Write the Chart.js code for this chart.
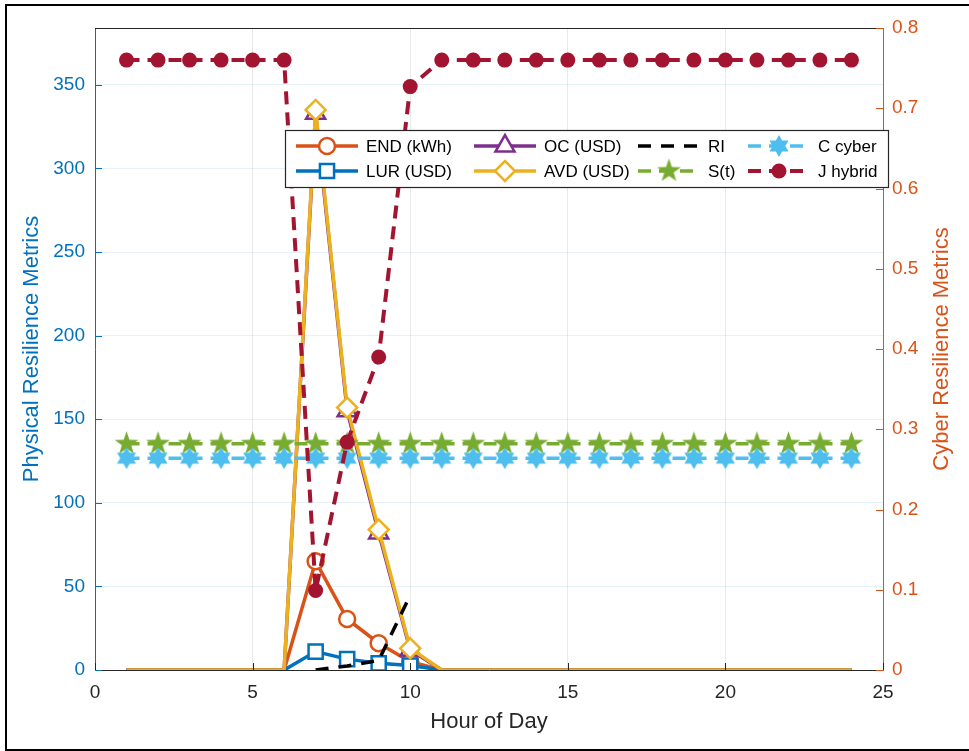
<!DOCTYPE html>
<html>
<head>
<meta charset="utf-8">
<script src="https://cdn.jsdelivr.net/npm/chart.js@4.4.1/dist/chart.umd.min.js"></script>
<style>
  html, body { margin: 0; padding: 0; background: #fff; }
  #wrap { position: relative; width: 969px; height: 751px; overflow: hidden; background: #fff; }
  #frame { position: absolute; left: 5px; top: 4px; width: 1000px; height: 747px; border: 2px solid #000; box-sizing: border-box; pointer-events: none; }
</style>
</head>
<body>
<div id="wrap">
  <canvas id="resilienceChart" width="969" height="751"></canvas>
  <div id="frame"></div>
</div>
<script>
const hours = [1, 2, 3, 4, 5, 6, 7, 8, 9, 10, 11, 12, 13, 14, 15, 16, 17, 18, 19, 20, 21, 22, 23, 24];

// physical metrics (left axis)
const endKwh = [0, 0, 0, 0, 0, 0, 65, 30.5, 16, 5, 0, 0, 0, 0, 0, 0, 0, 0, 0, 0, 0, 0, 0, 0];
const lurUsd = [0, 0, 0, 0, 0, 0, 11, 6.5, 4, 2.7, 0, 0, 0, 0, 0, 0, 0, 0, 0, 0, 0, 0, 0, 0];
const ocUsd = [0, 0, 0, 0, 0, 0, 333, 155, 82, 12, 0, 0, 0, 0, 0, 0, 0, 0, 0, 0, 0, 0, 0, 0];
const avdUsd = [0, 0, 0, 0, 0, 0, 335, 157, 84, 13, 0, 0, 0, 0, 0, 0, 0, 0, 0, 0, 0, 0, 0, 0];

// cyber metrics (right axis)
const riIndex = [null, null, null, null, null, null, 0, 0.005, 0.012, 0.093, null, null, null, null, null, null, null, null, null, null, null, null, null, null];
const sT = [0.282, 0.282, 0.282, 0.282, 0.282, 0.282, 0.282, 0.282, 0.282, 0.282, 0.282, 0.282, 0.282, 0.282, 0.282, 0.282, 0.282, 0.282, 0.282, 0.282, 0.282, 0.282, 0.282, 0.282];
const cCyber = [0.264, 0.264, 0.264, 0.264, 0.264, 0.264, 0.264, 0.264, 0.264, 0.264, 0.264, 0.264, 0.264, 0.264, 0.264, 0.264, 0.264, 0.264, 0.264, 0.264, 0.264, 0.264, 0.264, 0.264];
const jHybrid = [0.76, 0.76, 0.76, 0.76, 0.76, 0.76, 0.099, 0.284, 0.39, 0.727, 0.76, 0.76, 0.76, 0.76, 0.76, 0.76, 0.76, 0.76, 0.76, 0.76, 0.76, 0.76, 0.76, 0.76];

const xTicks = [0, 5, 10, 15, 20, 25];
const leftTicks = [0, 50, 100, 150, 200, 250, 300, 350];
const rightTicks = [0, 0.1, 0.2, 0.3, 0.4, 0.5, 0.6, 0.7, 0.8];

const blue = '#0072BD';
const orange = '#D95319';
const axisGray = '#262626';
const font = "'Liberation Sans', Arial, Helvetica, sans-serif";

function pts(values) {
    return hours.map((h, i) => ({ x: h, y: values[i] }));
}

// only show markers where the metric is non zero
function markerAt(r) {
    return ctx => (ctx.raw && ctx.raw.y > 0 ? r : 0);
}

function starImage(n, outer, inner, color) {
    const c = document.createElement('canvas');
    const s = Math.ceil(outer * 2 + 2);
    c.width = s;
    c.height = s;
    const g = c.getContext('2d');
    g.fillStyle = color;
    g.beginPath();
    for (let i = 0; i < 2 * n; i++) {
        const a = -Math.PI / 2 + i * Math.PI / n;
        const rad = i % 2 === 0 ? outer : inner;
        g.lineTo(s / 2 + rad * Math.cos(a), s / 2 + rad * Math.sin(a));
    }
    g.closePath();
    g.fill();
    return c;
}

const pentagram = starImage(5, 12.5, 4.9, '#77AC30');
const hexagram = starImage(6, 11, 6.35, '#4DBEEE');

const datasets = [
    { label: 'END (kWh)', data: pts(endKwh), yAxisID: 'y', borderColor: orange, borderWidth: 3.5,
      pointStyle: 'circle', pointRadius: markerAt(8), pointBorderWidth: 2.5, pointBorderColor: orange, pointBackgroundColor: '#fff', order: 7 },
    { label: 'LUR (USD)', data: pts(lurUsd), yAxisID: 'y', borderColor: blue, borderWidth: 3.5,
      pointStyle: 'rect', pointRadius: markerAt(10), pointBorderWidth: 2.5, pointBorderColor: blue, pointBackgroundColor: '#fff', order: 6 },
    { label: 'OC (USD)', data: pts(ocUsd), yAxisID: 'y', borderColor: '#7E2F8E', borderWidth: 3.5,
      pointStyle: 'triangle', pointRadius: markerAt(11), pointBorderWidth: 2.5, pointBorderColor: '#7E2F8E', pointBackgroundColor: '#fff', order: 5 },
    { label: 'AVD (USD)', data: pts(avdUsd), yAxisID: 'y', borderColor: '#EDB120', borderWidth: 3.5,
      pointStyle: 'rectRot', pointRadius: markerAt(10), pointBorderWidth: 2.5, pointBorderColor: '#EDB120', pointBackgroundColor: '#fff', order: 4 },
    { label: 'RI', data: pts(riIndex), yAxisID: 'y1', borderColor: '#000', borderWidth: 3.5, borderDash: [13, 10],
      pointRadius: 0, order: 3 },
    { label: 'S(t)', data: pts(sT), yAxisID: 'y1', borderColor: '#77AC30', borderWidth: 3.5, borderDash: [13, 8],
      pointStyle: pentagram, pointRadius: 12, pointBorderWidth: 0, order: 2 },
    { label: 'C cyber', data: pts(cCyber), yAxisID: 'y1', borderColor: '#4DBEEE', borderWidth: 3.5, borderDash: [13, 8],
      pointStyle: hexagram, pointRadius: 11, pointBorderWidth: 0, order: 1 },
    { label: 'J hybrid', data: pts(jHybrid), yAxisID: 'y1', borderColor: '#A2142F', borderWidth: 4, borderDash: [13, 8],
      pointStyle: 'circle', pointRadius: 7.5, pointBorderWidth: 0, pointBackgroundColor: '#A2142F', order: 0 }
];

// matlab style inner tick marks + top box line + right label
const axesDecor = {
    id: 'axesDecor',
    afterDraw(chart) {
        const { ctx, chartArea: a, scales } = chart;
        ctx.save();
        ctx.lineWidth = 1;
        ctx.strokeStyle = axisGray;
        ctx.beginPath();
        ctx.moveTo(a.left, a.top + 0.5);
        ctx.lineTo(a.right, a.top + 0.5);
        ctx.stroke();

        ctx.strokeStyle = blue;
        leftTicks.forEach(v => {
            const y = Math.round(scales.y.getPixelForValue(v)) + 0.5;
            ctx.beginPath(); ctx.moveTo(a.left, y); ctx.lineTo(a.left + 7, y); ctx.stroke();
        });
        ctx.strokeStyle = orange;
        rightTicks.forEach(v => {
            const y = Math.round(scales.y1.getPixelForValue(v)) + 0.5;
            ctx.beginPath(); ctx.moveTo(a.right - 7, y); ctx.lineTo(a.right, y); ctx.stroke();
        });
        ctx.strokeStyle = axisGray;
        xTicks.forEach(v => {
            const x = Math.round(scales.x.getPixelForValue(v)) + 0.5;
            ctx.beginPath(); ctx.moveTo(x, a.bottom); ctx.lineTo(x, a.bottom - 7); ctx.stroke();
        });

        ctx.fillStyle = orange;
        ctx.font = '22px ' + font;
        ctx.textAlign = 'center';
        ctx.textBaseline = 'middle';
        ctx.translate(942, (a.top + a.bottom) / 2);
        ctx.rotate(-Math.PI / 2);
        ctx.fillText('Cyber Resilience Metrics', 0, 0);
        ctx.restore();
    }
};

const legendBox = {
    id: 'legendBox',
    afterDraw(chart) {
        const ctx = chart.ctx;
        const bx = 285, by = 130, bw = 603, bh = 57;
        const cols = [296, 474, 638, 748];
        const rows = [146, 171];
        const len = 62;
        ctx.save();
        ctx.fillStyle = '#fff';
        ctx.fillRect(bx, by, bw, bh);
        ctx.strokeStyle = axisGray;
        ctx.lineWidth = 1.2;
        ctx.strokeRect(bx + 0.5, by + 0.5, bw, bh);

        chart.data.datasets.forEach((ds, i) => {
            const x0 = cols[Math.floor(i / 2)];
            const y = rows[i % 2];
            ctx.strokeStyle = ds.borderColor;
            ctx.lineWidth = ds.borderWidth;
            ctx.setLineDash(ds.borderDash || []);
            ctx.beginPath();
            ctx.moveTo(x0, y);
            ctx.lineTo(x0 + len, y);
            ctx.stroke();
            ctx.setLineDash([]);
            const cx = x0 + len / 2;
            if (ds.pointStyle instanceof HTMLCanvasElement) {
                ctx.drawImage(ds.pointStyle, cx - ds.pointStyle.width / 2, y - ds.pointStyle.height / 2);
            } else if (ds.pointStyle) {
                const r = typeof ds.pointRadius === 'function' ? ds.pointRadius({ raw: { y: 1 } }) : ds.pointRadius;
                ctx.fillStyle = ds.pointBackgroundColor;
                ctx.strokeStyle = ds.pointBorderColor || ds.borderColor;
                ctx.lineWidth = ds.pointBorderWidth;
                Chart.helpers.drawPoint(ctx, { pointStyle: ds.pointStyle, radius: r, borderWidth: ds.pointBorderWidth, rotation: 0 }, cx, y);
            }
            ctx.fillStyle = '#000';
            ctx.font = '17px ' + font;
            ctx.textAlign = 'left';
            ctx.textBaseline = 'middle';
            ctx.fillText(ds.label, x0 + len + 8, y + 1);
        });
        ctx.restore();
    }
};

const chartCtx = document.getElementById('resilienceChart').getContext('2d');
const resilienceChart = new Chart(chartCtx, {
    type: 'line',
    data: { datasets: datasets },
    plugins: [axesDecor, legendBox],
    options: {
        responsive: false,
        animation: false,
        layout: { padding: { top: 28, left: 0, right: 0, bottom: 0 } },
        plugins: { legend: { display: false }, tooltip: { enabled: false } },
        elements: { line: { tension: 0, fill: false } },
        scales: {
            x: {
                type: 'linear', min: 0, max: 25,
                afterFit: s => { s.height = 81; },
                afterBuildTicks: s => { s.ticks = xTicks.map(v => ({ value: v })); },
                ticks: { color: axisGray, font: { family: font, size: 19 }, padding: 11, maxRotation: 0 },
                grid: { color: 'rgba(38,38,38,0.1)', drawTicks: false },
                border: { color: axisGray, width: 1 },
                title: { display: true, text: 'Hour of Day', color: axisGray, font: { family: font, size: 22 }, padding: { top: 0, bottom: 16 } }
            },
            y: {
                position: 'left', min: 0, max: 384,
                afterFit: s => { s.width = 95; },
                afterBuildTicks: s => { s.ticks = leftTicks.map(v => ({ value: v })); },
                ticks: { color: blue, font: { family: font, size: 19 }, padding: 10 },
                grid: { color: 'rgba(0,114,189,0.1)', drawTicks: false },
                border: { color: blue, width: 1 },
                title: { display: true, text: 'Physical Resilience Metrics', color: blue, font: { family: font, size: 22 }, padding: { top: 19, bottom: 0 } }
            },
            y1: {
                position: 'right', min: 0, max: 0.8,
                afterFit: s => { s.width = 86; },
                afterBuildTicks: s => { s.ticks = rightTicks.map(v => ({ value: v })); },
                ticks: { color: orange, font: { family: font, size: 19 }, padding: 9, callback: v => String(+v.toFixed(1)) },
                grid: { display: false, drawTicks: false },
                border: { color: orange, width: 1 }
            }
        }
    }
});
</script>
</body>
</html>
